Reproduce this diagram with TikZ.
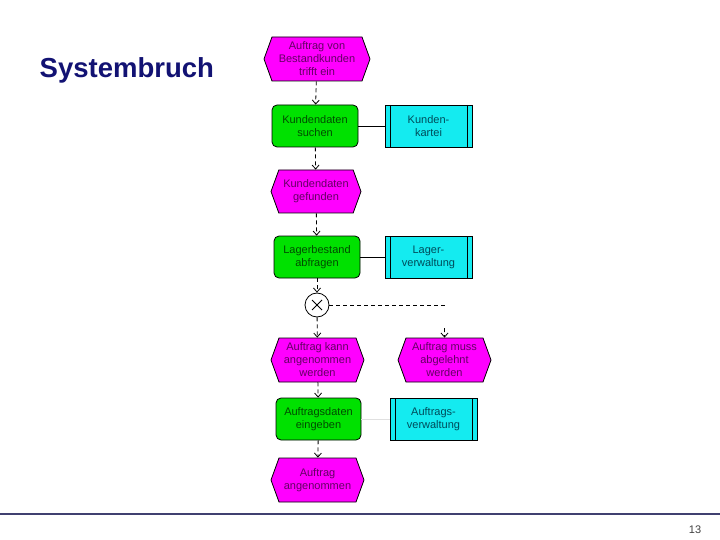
\documentclass[tikz,border=0pt]{standalone}
\usepackage{fontspec}
\setmainfont{Liberation Sans}
\usetikzlibrary{arrows.meta, shapes.symbols}
\usetikzlibrary{positioning}
\definecolor{evfill}{RGB}{255,0,255}
\definecolor{evtext}{RGB}{100,0,100}
\definecolor{fnfill}{RGB}{0,225,0}
\definecolor{fntext}{RGB}{0,75,0}
\definecolor{sysfill}{RGB}{20,235,240}
\definecolor{systext}{RGB}{0,75,90}
\definecolor{titleblue}{RGB}{18,18,115}
\definecolor{rulecolor}{RGB}{64,64,112}
\tikzstyle{event_node} = [
    signal,
    signal to=east and west,
    signal pointer angle=140,
    draw=black,
    fill=evfill,
    text=evtext,
    font=\fontsize{11}{13}\selectfont,
    align=center,
    inner sep=1pt,
    minimum width=93pt,
    minimum height=44pt
]
\tikzstyle{function_node} = [
    rectangle,
    rounded corners=5pt,
    draw=black,
    fill=fnfill,
    text=fntext,
    font=\fontsize{11}{13}\selectfont,
    align=center,
    inner sep=1pt,
    minimum width=86pt,
    minimum height=42pt
]
\tikzstyle{system_node} = [
    rectangle,
    draw=black,
    fill=sysfill,
    text=systext,
    font=\fontsize{11}{13}\selectfont,
    align=center,
    inner sep=1pt,
    minimum width=87pt,
    minimum height=42pt,
    path picture={
        \draw ([xshift=5pt]path picture bounding box.north west) -- ([xshift=5pt]path picture bounding box.south west);
        \draw ([xshift=-5pt]path picture bounding box.north east) -- ([xshift=-5pt]path picture bounding box.south east);
    }
]
\tikzstyle{xor_node} = [
    circle,
    draw=black,
    fill=white,
    minimum size=24pt,
    path picture={
        \draw ([shift={(-5pt,-5pt)}]path picture bounding box.center) -- ([shift={(5pt,5pt)}]path picture bounding box.center);
        \draw ([shift={(-5pt,5pt)}]path picture bounding box.center) -- ([shift={(5pt,-5pt)}]path picture bounding box.center);
    }
]
\tikzstyle{flow} = [
    draw=black,
    line width=0.8pt,
    dash pattern=on 4pt off 3pt,
    -{Straight Barb[length=4pt,width=7pt]}
]
\tikzstyle{link} = [
    draw=black,
    line width=0.8pt
]
\begin{document}
\begin{tikzpicture}[x=1pt, y=-1pt, line width=0.8pt]
\useasboundingbox (0,0) rectangle (720,540);

\node [anchor=west, text=titleblue, font=\fontsize{27.5}{33}\selectfont\bfseries] (title) at (36,70) {Systembruch};

% Prozesskette
\node [event_node, minimum width=106pt] (ev_auftrag) at (317,59) {Auftrag von\\Bestandkunden\\trifft ein};
\node [function_node] (fn_suchen) at (315,126) {Kundendaten\\suchen};
\node [system_node] (sys_kunden) at (428.5,126) {Kunden-\\kartei};
\node [event_node, minimum width=90pt, minimum height=43pt] (ev_gefunden) at (316,191.5) {Kundendaten\\gefunden};
\node [function_node] (fn_lager) at (317,257) {Lagerbestand\\abfragen};
\node [system_node] (sys_lager) at (428.5,257) {Lager-\\verwaltung};
\node [xor_node] (xor) at (317,305) {};
\node [event_node] (ev_kann) at (317.5,360) {Auftrag kann\\angenommen\\werden};
\node [event_node] (ev_muss) at (444.5,360) {Auftrag muss\\abgelehnt\\werden};
\node [function_node, minimum width=85pt] (fn_eingeben) at (318.5,419) {Auftragsdaten\\eingeben};
\node [system_node] (sys_auftrag) at (433.5,419) {Auftrags-\\verwaltung};
\node [event_node] (ev_angenommen) at (317.5,480) {Auftrag\\angenommen};

\coordinate (xor_end) at (445,305);
\coordinate (muss_in) at (444.5,328);

\draw [flow] (ev_auftrag) -- (fn_suchen);
\draw [flow] (fn_suchen) -- (ev_gefunden);
\draw [flow] (ev_gefunden) -- (fn_lager);
\draw [flow] (fn_lager) -- (xor);
\draw [flow] (xor) -- (ev_kann);
\draw [flow, -] (xor) -- (xor_end);
\draw [flow] (muss_in) -- (ev_muss);
\draw [flow] (ev_kann) -- (fn_eingeben);
\draw [flow] (fn_eingeben) -- (ev_angenommen);

\draw [link] (fn_suchen) -- (sys_kunden);
\draw [link] (fn_lager) -- (sys_lager);
\draw [link, draw=black!12] (fn_eingeben) -- (sys_auftrag);

% Fusszeile
\coordinate (rule_l) at (0,514);
\coordinate (rule_r) at (720,514);
\draw [rulecolor, line width=2.5pt] (rule_l) -- (rule_r);
\node [text=black!75, font=\fontsize{11}{13}\selectfont] (page) at (695,530) {13};
\end{tikzpicture}
\end{document}
